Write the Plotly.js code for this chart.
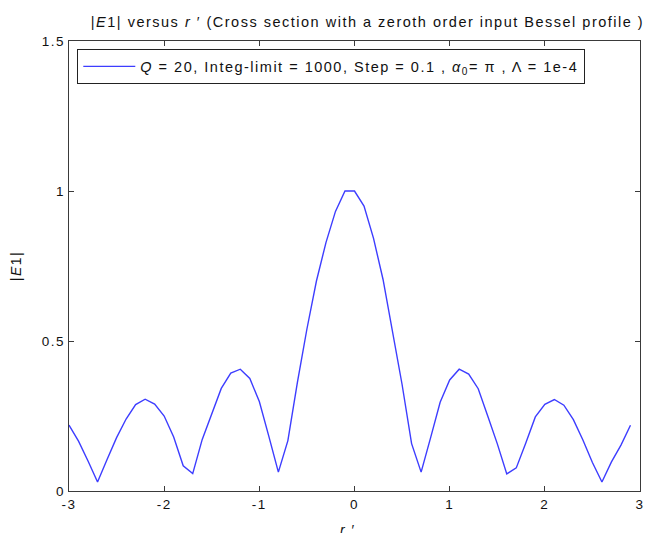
<!DOCTYPE html>
<html>
<head>
<meta charset="utf-8">
<script src="https://cdn.plot.ly/plotly-3.0.1.min.js"></script>
<style>
  html, body { margin: 0; padding: 0; background: #ffffff; }
  #chart { width: 647px; height: 533px; }
  /* wide, screen-hinted lettering */
  svg text { letter-spacing: 1.5px; }
</style>
</head>
<body>
<div id="chart"></div>
<script>
// Radial positions r' (step 0.1) and the field magnitude |E1| at each one
const rPrime = [
  -3.0, -2.9, -2.8, -2.7, -2.6, -2.5, -2.4, -2.3, -2.2, -2.1,
  -2.0, -1.9, -1.8, -1.7, -1.6, -1.5, -1.4, -1.3, -1.2, -1.1,
  -1.0, -0.9, -0.8, -0.7, -0.6, -0.5, -0.4, -0.3, -0.2, -0.1,
   0.0,  0.1,  0.2,  0.3,  0.4,  0.5,  0.6,  0.7,  0.8,  0.9,
   1.0,  1.1,  1.2,  1.3,  1.4,  1.5,  1.6,  1.7,  1.8,  1.9,
   2.0,  2.1,  2.2,  2.3,  2.4,  2.5,  2.6,  2.7,  2.8,  2.9
];
const absE1 = [
  0.220, 0.166, 0.100, 0.030, 0.105, 0.178, 0.240, 0.288, 0.306, 0.290,
  0.250, 0.180, 0.084, 0.058, 0.172, 0.255, 0.342, 0.393, 0.406, 0.375,
  0.298, 0.182, 0.063, 0.168, 0.362, 0.540, 0.700, 0.828, 0.932, 1.000,
  1.000, 0.950, 0.842, 0.705, 0.535, 0.355, 0.158, 0.063, 0.178, 0.296,
  0.370, 0.406, 0.390, 0.341, 0.250, 0.158, 0.057, 0.077, 0.160, 0.247,
  0.289, 0.305, 0.286, 0.238, 0.170, 0.095, 0.030, 0.097, 0.153, 0.219
];
const xTicks = [-3, -2, -1, 0, 1, 2, 3];
const yTicks = [0, 0.5, 1, 1.5];
const yTickText = ['0', '0.5', '1', '1.5'];

const seriesName = '<i>Q</i> = 20, Integ-limit = 1000, Step = 0.1 , <i>\u03b1</i><sub>0</sub>= \u03c0 , \u039b = 1e-4';
const xLabel = '<i>r</i> \u2032';
const yLabel = '|<i>E</i>1|';

const FONT = 'Liberation Sans, Arial, Helvetica, sans-serif';
const AXIS_COLOR = '#3a3a3a';
const TEXT_COLOR = '#111111';

const trace = {
  x: rPrime,
  y: absE1,
  type: 'scatter',
  mode: 'lines',
  name: seriesName,
  line: { color: '#3d3dff', width: 1.4 },
  showlegend: true
};

const axisCommon = {
  showgrid: false,
  zeroline: false,
  showline: true,
  linecolor: AXIS_COLOR,
  linewidth: 1.3,
  mirror: 'ticks',
  ticks: 'inside',
  ticklen: 5,
  tickwidth: 1,
  tickcolor: AXIS_COLOR,
  tickfont: { family: FONT, size: 13.5, color: TEXT_COLOR },
  fixedrange: true
};

const layout = {
  width: 647,
  height: 533,
  margin: { l: 69, r: 7, t: 41, b: 42, pad: 0 },
  paper_bgcolor: '#ffffff',
  plot_bgcolor: '#ffffff',
  font: { family: FONT, size: 13.5, color: TEXT_COLOR },
  title: {
    text: '|<i>E</i>1| versus <i>r</i> \u2032 (Cross section with a zeroth order input Bessel profile )',
    font: { family: FONT, size: 14.5, color: TEXT_COLOR },
    xref: 'container',
    x: 0.568,
    xanchor: 'center',
    yref: 'container',
    y: 0.958,
    yanchor: 'middle'
  },
  xaxis: Object.assign({}, axisCommon, {
    range: [-3, 3],
    tickmode: 'array',
    tickvals: xTicks,
    ticktext: xTicks.map(String)
  }),
  yaxis: Object.assign({}, axisCommon, {
    range: [0, 1.5],
    tickmode: 'array',
    tickvals: yTicks,
    ticktext: yTickText,
    title: { text: yLabel, font: { family: FONT, size: 14, color: TEXT_COLOR }, standoff: 16 }
  }),
  // x-axis label sits low, running off the bottom edge of the figure
  annotations: [{
    text: xLabel,
    xref: 'paper',
    yref: 'paper',
    x: 0.489,
    y: -0.064,
    xanchor: 'center',
    yanchor: 'top',
    showarrow: false,
    font: { family: FONT, size: 14, color: TEXT_COLOR }
  }],
  legend: {
    x: 0.014,
    xanchor: 'left',
    y: 0.982,
    yanchor: 'top',
    bgcolor: '#ffffff',
    bordercolor: '#222222',
    borderwidth: 1.3,
    font: { family: FONT, size: 14.5, color: TEXT_COLOR },
    itemwidth: 52
  },
  showlegend: true
};

Plotly.newPlot('chart', [trace], layout, { staticPlot: true, displayModeBar: false });
</script>
</body>
</html>
